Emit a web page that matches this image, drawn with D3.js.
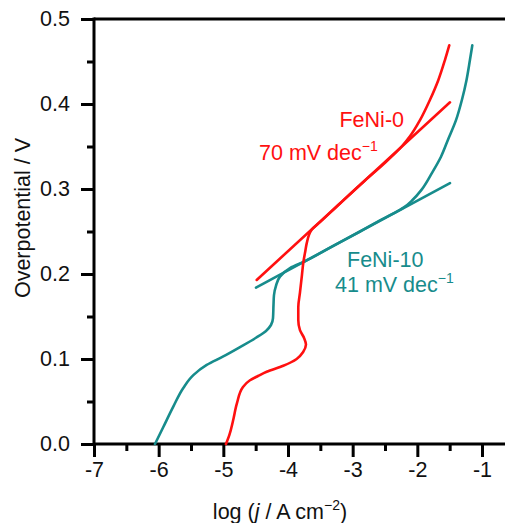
<!DOCTYPE html>
<html>
<head>
<meta charset="utf-8">
<script src="https://cdn.jsdelivr.net/npm/d3@7"></script>
<style>
  html, body { margin: 0; padding: 0; background: #fff; }
  svg { display: block; font-family: "Liberation Sans", Arial, sans-serif; }
</style>
</head>
<body>
<svg id="chart" width="505" height="523"></svg>
<script>
// ---- data ----
const xTicks = [-7, -6, -5, -4, -3, -2, -1];
const yTicks = [0.0, 0.1, 0.2, 0.3, 0.4, 0.5];

const feni0X = [-4.959, -4.905, -4.851, -4.789, -4.696, -4.588, -4.464, -4.330, -4.073, -3.866, -3.768, -3.722, -3.753, -3.815, -3.841, -3.841, -3.815, -3.784, -3.764, -3.730, -3.711, -3.634, -3.505, -3.196, -2.810, -2.526, -2.242, -2.114, -1.959, -1.804, -1.676, -1.572, -1.506];
const feni0Y = [0.000, 0.011, 0.027, 0.048, 0.067, 0.075, 0.080, 0.085, 0.092, 0.100, 0.108, 0.117, 0.125, 0.134, 0.146, 0.161, 0.178, 0.199, 0.213, 0.228, 0.236, 0.252, 0.261, 0.283, 0.310, 0.329, 0.350, 0.362, 0.381, 0.405, 0.428, 0.452, 0.469];

const feni10X = [-6.057, -5.928, -5.774, -5.619, -5.464, -5.257, -5.001, -4.742, -4.495, -4.340, -4.263, -4.232, -4.224, -4.217, -4.186, -4.124, -3.969, -3.737, -3.351, -2.887, -2.578, -2.377, -2.214, -2.075, -1.936, -1.773, -1.634, -1.526, -1.402, -1.310, -1.240, -1.186, -1.150];
const feni10Y = [0.000, 0.020, 0.044, 0.066, 0.081, 0.093, 0.103, 0.114, 0.125, 0.133, 0.140, 0.148, 0.164, 0.175, 0.186, 0.197, 0.207, 0.215, 0.231, 0.250, 0.263, 0.271, 0.278, 0.287, 0.299, 0.319, 0.338, 0.358, 0.381, 0.405, 0.428, 0.452, 0.469];

// Tafel fit lines
const tafel0X = [-4.484, -1.495];
const tafel0Y = [0.193, 0.402];
const tafel10X = [-4.495, -1.495];
const tafel10Y = [0.184, 0.307];

const RED = "#ff1010";
const TEAL = "#178c8c";
const FS = 21.5;

// ---- layout ----
const svg = d3.select("#chart");
const mLeft = 94, mTop = 19, mBottom = 444;
const x = d3.scaleLinear().domain([-7, -1]).range([mLeft, 482]);
const y = d3.scaleLinear().domain([0, 0.5]).range([mBottom, mTop]);

const g = svg.append("g");

// minor ticks
const xMinor = [-6.5, -5.5, -4.5, -3.5, -2.5, -1.5];
const yMinor = [0.05, 0.15, 0.25, 0.35, 0.45];

const xAxis = d3.axisBottom(x).tickValues(xTicks).tickSize(13).tickPadding(5)
  .tickFormat(d => String(d));
const gx = g.append("g").attr("transform", `translate(0,${mBottom})`).call(xAxis);
gx.select(".domain").remove();
gx.selectAll(".tick line").attr("stroke", "#000").attr("stroke-width", 3);
gx.selectAll(".tick text").attr("font-size", FS).attr("fill", "#111");

const gxm = g.append("g").attr("transform", `translate(0,${mBottom})`)
  .call(d3.axisBottom(x).tickValues(xMinor).tickSize(7).tickFormat(""));
gxm.select(".domain").remove();
gxm.selectAll(".tick line").attr("stroke", "#000").attr("stroke-width", 3);

const yAxis = d3.axisLeft(y).tickValues(yTicks).tickSize(13).tickPadding(11)
  .tickFormat(d3.format(".1f"));
const gy = g.append("g").attr("transform", `translate(${mLeft},0)`).call(yAxis);
gy.select(".domain").remove();
gy.selectAll(".tick line").attr("stroke", "#000").attr("stroke-width", 3);
gy.selectAll(".tick text").attr("font-size", FS).attr("fill", "#111");

const gym = g.append("g").attr("transform", `translate(${mLeft},0)`)
  .call(d3.axisLeft(y).tickValues(yMinor).tickSize(7).tickFormat(""));
gym.select(".domain").remove();
gym.selectAll(".tick line").attr("stroke", "#000").attr("stroke-width", 3);

// axis lines
g.append("line").attr("x1", mLeft).attr("x2", 505).attr("y1", mBottom).attr("y2", mBottom)
  .attr("stroke", "#000").attr("stroke-width", 3);
g.append("line").attr("x1", mLeft).attr("x2", 505).attr("y1", mTop).attr("y2", mTop)
  .attr("stroke", "#000").attr("stroke-width", 3);
g.append("line").attr("x1", mLeft).attr("x2", mLeft).attr("y1", mTop - 1.5).attr("y2", mBottom + 1.5)
  .attr("stroke", "#000").attr("stroke-width", 3);

// curves
const zip = (a, b) => a.map((v, i) => [v, b[i]]);
function drawPath(xs, ys, color, curved) {
  const gen = d3.line().x(d => x(d[0])).y(d => y(d[1]));
  if (curved) gen.curve(d3.curveMonotoneY);
  g.append("path").datum(zip(xs, ys)).attr("d", gen)
    .attr("fill", "none").attr("stroke", color).attr("stroke-width", 2.6)
    .attr("stroke-linejoin", "round").attr("stroke-linecap", "round");
}
drawPath(tafel10X, tafel10Y, TEAL, false);
drawPath(tafel0X, tafel0Y, RED, false);
drawPath(feni10X, feni10Y, TEAL, true);
drawPath(feni0X, feni0Y, RED, true);

// annotations
function label(tx, ty, main, sup, color, anchor) {
  const t = g.append("text").attr("x", tx).attr("y", ty).attr("fill", color)
    .attr("font-size", FS).attr("text-anchor", anchor || "start");
  t.append("tspan").text(main);
  if (sup) t.append("tspan").attr("dy", -9).attr("font-size", 14).text(sup);
}
label(404, 127, "FeNi-0", null, RED, "end");
label(259, 160, "70 mV dec", "\u22121", RED);
label(347, 267, "FeNi-10", null, TEAL);
label(335, 292, "41 mV dec", "\u22121", TEAL);

// axis titles
const xt = svg.append("text").attr("x", 280).attr("y", 519).attr("text-anchor", "middle")
  .attr("font-size", FS).attr("fill", "#111");
xt.append("tspan").text("log (");
xt.append("tspan").attr("font-style", "italic").text("j");
xt.append("tspan").text(" / A cm");
xt.append("tspan").attr("dy", -9).attr("font-size", 14).text("\u22122");
xt.append("tspan").attr("dy", 9).text(")");

svg.append("text").attr("transform", "translate(30,218) rotate(-90)")
  .attr("text-anchor", "middle").attr("font-size", FS).attr("fill", "#111")
  .text("Overpotential / V");
</script>
</body>
</html>
